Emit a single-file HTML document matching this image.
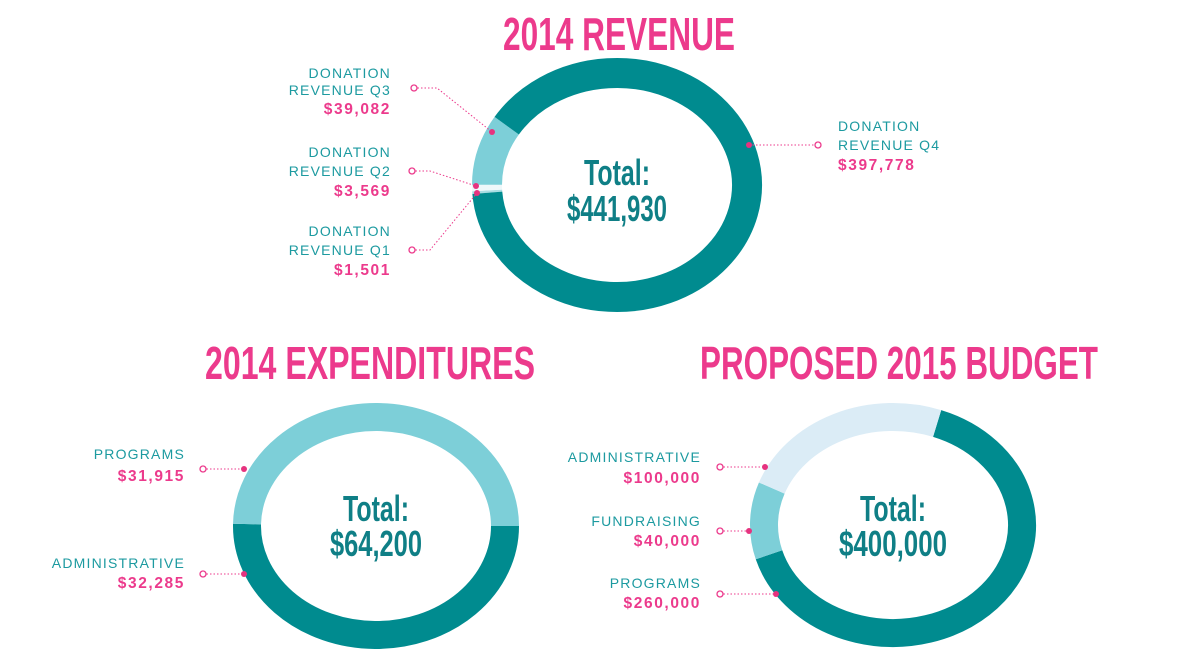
<!DOCTYPE html>
<html><head><meta charset="utf-8"><style>
html,body{margin:0;padding:0;background:#fff;}
svg{display:block;font-family:"Liberation Sans",sans-serif;}
.t{font-weight:bold;fill:#ec3a8c;}
.lab{fill:#1c9aa0;font-size:14px;letter-spacing:1.2px;}
.val{fill:#ec3a8c;font-size:15.5px;font-weight:bold;letter-spacing:1.6px;}
.tot{fill:#0f7f86;font-weight:bold;}
text[text-anchor="end"]{padding-right:0;}
</style></head><body>
<svg id="c" width="1180" height="657" viewBox="0 0 1180 657">
<text class="t" x="619" y="50" text-anchor="middle" font-size="46" textLength="232" lengthAdjust="spacingAndGlyphs">2014 REVENUE</text>
<text class="t" x="370" y="379" text-anchor="middle" font-size="46" textLength="330" lengthAdjust="spacingAndGlyphs">2014 EXPENDITURES</text>
<text class="t" x="899" y="379" text-anchor="middle" font-size="46" textLength="398" lengthAdjust="spacingAndGlyphs">PROPOSED 2015 BUDGET</text>

<text class="tot" x="617" y="185" text-anchor="middle" font-size="36" textLength="66" lengthAdjust="spacingAndGlyphs">Total:</text>
<text class="tot" x="617" y="221" text-anchor="middle" font-size="36" textLength="100" lengthAdjust="spacingAndGlyphs">$441,930</text>
<text class="tot" x="376" y="521" text-anchor="middle" font-size="36" textLength="66" lengthAdjust="spacingAndGlyphs">Total:</text>
<text class="tot" x="376" y="556" text-anchor="middle" font-size="36" textLength="92" lengthAdjust="spacingAndGlyphs">$64,200</text>
<text class="tot" x="893" y="521" text-anchor="middle" font-size="36" textLength="66" lengthAdjust="spacingAndGlyphs">Total:</text>
<text class="tot" x="893" y="556" text-anchor="middle" font-size="36" textLength="108" lengthAdjust="spacingAndGlyphs">$400,000</text>

<g>
<text class="lab" x="391" y="78" text-anchor="end">DONATION</text>
<text class="lab" x="391" y="95" text-anchor="end">REVENUE Q3</text>
<text class="val" x="391" y="114" text-anchor="end">$39,082</text>
<text class="lab" x="391" y="157" text-anchor="end">DONATION</text>
<text class="lab" x="391" y="176" text-anchor="end">REVENUE Q2</text>
<text class="val" x="391" y="196" text-anchor="end">$3,569</text>
<text class="lab" x="391" y="236" text-anchor="end">DONATION</text>
<text class="lab" x="391" y="255" text-anchor="end">REVENUE Q1</text>
<text class="val" x="391" y="275" text-anchor="end">$1,501</text>
<text class="lab" x="838" y="131">DONATION</text>
<text class="lab" x="838" y="150">REVENUE Q4</text>
<text class="val" x="838" y="170">$397,778</text>
</g>
<g>
<text class="lab" x="185" y="459" text-anchor="end">PROGRAMS</text>
<text class="val" x="185" y="481" text-anchor="end">$31,915</text>
<text class="lab" x="185" y="568" text-anchor="end">ADMINISTRATIVE</text>
<text class="val" x="185" y="588" text-anchor="end">$32,285</text>
</g>
<g>
<text class="lab" x="701" y="462" text-anchor="end">ADMINISTRATIVE</text>
<text class="val" x="701" y="483" text-anchor="end">$100,000</text>
<text class="lab" x="701" y="526" text-anchor="end">FUNDRAISING</text>
<text class="val" x="701" y="546" text-anchor="end">$40,000</text>
<text class="lab" x="701" y="588" text-anchor="end">PROGRAMS</text>
<text class="val" x="701" y="608" text-anchor="end">$260,000</text>
</g>

<g fill="none" stroke="#ec3a8c" stroke-width="1" stroke-dasharray="1.5,2">
<polyline points="414,88 437,88 492,132"/>
<polyline points="412,171 430,171 476,186"/>
<polyline points="412,250 430,250 477,193"/>
<polyline points="749,145 818,145"/>
<polyline points="203,469 244,469"/>
<polyline points="203,574 244,574"/>
<polyline points="720,467 765,467"/>
<polyline points="720,531 749,531"/>
<polyline points="720,594 776,594"/>
</g>
<g id="dots"></g>
</svg>
<script>
const revCategories=["Q1","Q2","Q3","Q4"];
const revValues=[1501,3569,39082,397778];
const expCategories=["Administrative","Programs"];
const expValues=[32285,31915];
const budCategories=["Programs","Fundraising","Administrative"];
const budValues=[260000,40000,100000];

const NS="http://www.w3.org/2000/svg";
const svg=document.getElementById('c');
function pt(cx,cy,rx,ry,a){const r=a*Math.PI/180;return [cx+rx*Math.sin(r),cy-ry*Math.cos(r)];}
function donut(name,cats,vals,colors,cx,cy,rx,ry,sw,start){
  const total=vals.reduce((a,b)=>a+b,0);
  let a=start;
  const g=document.createElementNS(NS,'g');
  
  
  vals.forEach((v,i)=>{
    const span=v/total*360;
    const p0=pt(cx,cy,rx,ry,a),p1=pt(cx,cy,rx,ry,a+span);
    const p=document.createElementNS(NS,'path');
    p.setAttribute('d',`M${p0[0]},${p0[1]} A${rx},${ry} 0 ${span>180?1:0} 1 ${p1[0]},${p1[1]}`);
    p.setAttribute('fill','none');
    p.setAttribute('stroke',colors[i]);
    p.setAttribute('stroke-width',sw);
    
    
    g.appendChild(p);
    a+=span;
  });
  svg.insertBefore(g,svg.firstChild);
}
donut('revenue-donut',revCategories,revValues,['#a9dde3','#eef8fa','#7dcfd8','#008b8f'],617,185,130,112,30,266);
donut('expenditures-donut',expCategories,expValues,['#008b8f','#7dcfd8'],376,526,129,109,28,90);
donut('budget-donut',budCategories,budValues,['#008b8f','#7dcfd8','#dbecf6'],893,525,129,108,28,20);

const dots=document.getElementById('dots');
[[492,132],[476,186],[477,193],[749,145],[244,469],[244,574],[765,467],[749,531],[776,594]].forEach(d=>{
  const c=document.createElementNS(NS,'circle');
  c.setAttribute('cx',d[0]);c.setAttribute('cy',d[1]);c.setAttribute('r',3);c.setAttribute('fill','#e6337f');
  
  
  dots.appendChild(c);
});
[[414,88],[412,171],[412,250],[818,145],[203,469],[203,574],[720,467],[720,531],[720,594]].forEach(d=>{
  const c=document.createElementNS(NS,'circle');
  c.setAttribute('cx',d[0]);c.setAttribute('cy',d[1]);c.setAttribute('r',3);c.setAttribute('fill','#fff');c.setAttribute('stroke','#ec3a8c');c.setAttribute('stroke-width','1.3');
  
  
  dots.appendChild(c);
});
</script>
</body></html>
